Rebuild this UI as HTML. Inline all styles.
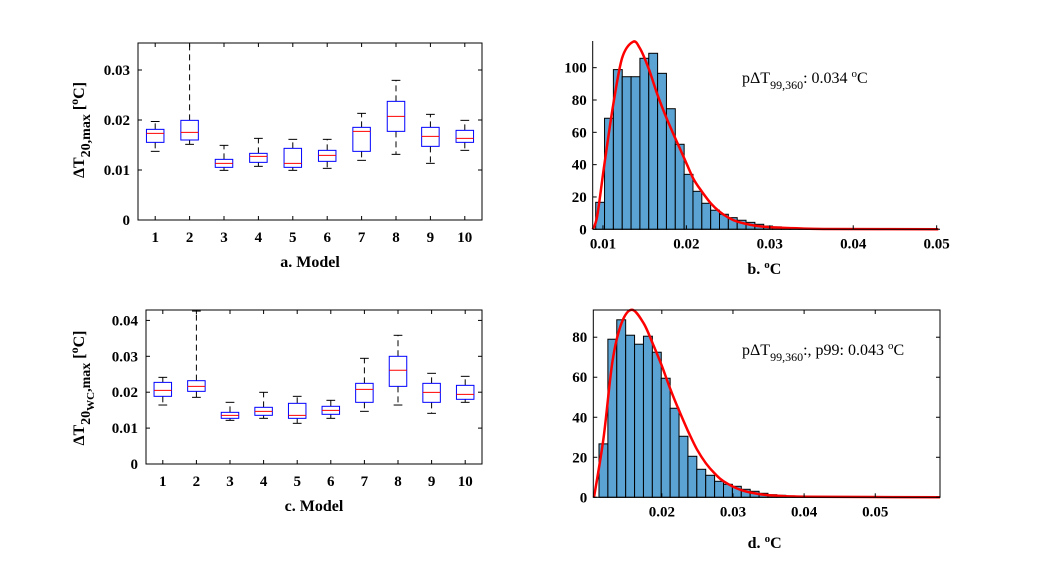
<!DOCTYPE html>
<html><head><meta charset="utf-8"><style>
body{margin:0;background:#fff;}
svg{display:block;font-family:"Liberation Serif",serif;}
.tk{font-size:15px;font-weight:bold;}
.al{font-size:16px;font-weight:bold;}
.an{font-size:16px;}
</style></head><body>
<svg id="fig" width="1039" height="565" viewBox="0 0 1039 565" xmlns="http://www.w3.org/2000/svg"></svg>
<script>
const models=[1,2,3,4,5,6,7,8,9,10];
// panel a: [lo, q1, med, q3, hi]
const aLo=[0.01373,0.01513,0.00993,0.01073,0.00993,0.01033,0.01193,0.01313,0.01133,0.01393];
const aQ1=[0.01553,0.0160,0.01053,0.01153,0.01053,0.01173,0.01373,0.01773,0.01473,0.01553];
const aMed=[0.01733,0.01753,0.01133,0.01273,0.01133,0.01293,0.01773,0.02073,0.01673,0.01633];
const aQ3=[0.01813,0.01993,0.01213,0.01333,0.01433,0.01393,0.01853,0.02373,0.01853,0.01793];
const aHi=[0.0197,0.0354,0.01493,0.01633,0.01613,0.01613,0.02133,0.02793,0.02113,0.01993];
// panel c
const cLo=[0.01643,0.01857,0.01216,0.01272,0.01133,0.01272,0.01467,0.01643,0.01411,0.01718];
const cQ1=[0.01885,0.02024,0.01272,0.01356,0.01272,0.01384,0.01718,0.02163,0.01718,0.01802];
const cMed=[0.02052,0.02163,0.01356,0.01467,0.01356,0.01495,0.0208,0.0261,0.01997,0.01941];
const cQ3=[0.02274,0.02321,0.01439,0.01579,0.0169,0.01607,0.02247,0.030,0.02247,0.02191];
const cHi=[0.02414,0.0426,0.01718,0.01997,0.01885,0.01774,0.02944,0.03585,0.02526,0.02442];
// panel b histogram
const bStart=0.00913, bWidth=0.00106;
const bCounts=[16.7,68.7,98.8,94.4,94.4,105.8,108.9,96.5,74.6,52.6,34,23.5,16.1,11.8,9.3,7.2,5.6,4.3,3.1,2,1.5,1,0.8,0.5,0.3,0.2];
const bCurveX=[0.00877,0.00930,0.01016,0.01123,0.0123,0.0136,0.01443,0.01547,0.01655,0.01763,0.0187,0.01974,0.02082,0.02186,0.02294,0.02398,0.02505,0.02613,0.0282,0.03036,0.0332,0.037,0.0502];
const bCurveY=[0,8,39.8,77,106,116,112,99.6,83,68.7,56,44,31.5,23.3,16,10.9,7.2,4.7,2.3,1.2,0.6,0.2,0];
// panel d histogram
const dStart=0.01117, dWidth=0.00125;
const dCounts=[26.7,79,88.7,81,76.5,80.5,72.5,59.5,44.5,30.5,20.5,14,11,8,6.5,5.5,4,3,2,1.3,1,0.7,0.5,0.3];
const dCurveX=[0.01047,0.0118,0.01307,0.01434,0.0158,0.01744,0.0187,0.01997,0.0212,0.02247,0.0237,0.02493,0.0262,0.02741,0.02868,0.03117,0.0337,0.0362,0.04043,0.0591];
const dCurveY=[0,29.5,68,87,93.7,87,77,66,54,43,33,24,17,12,8,3.6,1.6,0.8,0.3,0];

const NS="http://www.w3.org/2000/svg";
const svg=document.getElementById('fig');
function el(tag,attrs,parent){const e=document.createElementNS(NS,tag);for(const k in attrs)e.setAttribute(k,attrs[k]);(parent||svg).appendChild(e);return e;}
function txt(x,y,s,cls,anchor,parent){const t=el('text',{x:x,y:y,class:cls,'text-anchor':anchor||'middle'},parent);t.textContent=s;return t;}

function boxPanel(name,L,R,T,B,ymax,yticks,lo,q1,med,q3,hi,xlabel){
  const g=el('g',{});
  
  
  const sx=v=>L+(v-0.5)*(R-L)/10, sy=v=>B-v*(B-T)/ymax;
  const bw=17.5;
  for(let i=0;i<models.length;i++){
    const x=sx(models[i]);
    const b=el('g',{},g);
    
    
    el('line',{x1:x,x2:x,y1:sy(q3[i]),y2:sy(hi[i]),stroke:'#000','stroke-width':1,'stroke-dasharray':'6,4'},b);
    el('line',{x1:x,x2:x,y1:sy(q1[i]),y2:sy(lo[i]),stroke:'#000','stroke-width':1,'stroke-dasharray':'6,4'},b);
    el('line',{x1:x-bw/4,x2:x+bw/4,y1:sy(hi[i]),y2:sy(hi[i]),stroke:'#000','stroke-width':1},b);
    el('line',{x1:x-bw/4,x2:x+bw/4,y1:sy(lo[i]),y2:sy(lo[i]),stroke:'#000','stroke-width':1},b);
    el('rect',{x:x-bw/2,y:sy(q3[i]),width:bw,height:sy(q1[i])-sy(q3[i]),fill:'none',stroke:'#0000ff','stroke-width':1},b);
    el('line',{x1:x-bw/2,x2:x+bw/2,y1:sy(med[i]),y2:sy(med[i]),stroke:'#ff0000','stroke-width':1},b);
    el('line',{x1:x,x2:x,y1:B,y2:B-4,stroke:'#000'},g);
    el('line',{x1:x,x2:x,y1:T,y2:T+4,stroke:'#000'},g);
    txt(x,B+22,String(models[i]),'tk','middle',g);
  }
  yticks.forEach(v=>{
    const y=sy(v);
    el('line',{x1:L,x2:L+4,y1:y,y2:y,stroke:'#000'},g);
    el('line',{x1:R,x2:R-4,y1:y,y2:y,stroke:'#000'},g);
    txt(L-8,y+5,v===0?'0':v.toFixed(2),'tk','end',g);
  });
  el('rect',{x:L,y:T,width:R-L,height:B-T,fill:'none',stroke:'#000','stroke-width':1},g);
  const xl=txt((L+R)/2,B+47,xlabel,'al','middle',g);
  
  
}

boxPanel('panel-a-boxplot',138,482,43,220,0.0354,[0,0.01,0.02,0.03],aLo,aQ1,aMed,aQ3,aHi,'a. Model');
boxPanel('panel-c-boxplot',146,482,310,464,0.0429,[0,0.01,0.02,0.03,0.04],cLo,cQ1,cMed,cQ3,cHi,'c. Model');

function ylab(cx,cy,html,name){
  const t=el('text',{transform:`translate(${cx},${cy}) rotate(-90)`,'text-anchor':'middle',class:'al','font-size':'19'});
  
  
  t.innerHTML=html;
}
ylab(84,130,'ΔT<tspan font-size="14" dy="6">20,max</tspan><tspan dy="-6"> [</tspan><tspan font-size="12" dy="-6">o</tspan><tspan dy="6">C]</tspan>','y-axis-title-a');
ylab(84,388,'ΔT<tspan font-size="14" dy="6">20</tspan><tspan font-size="11" dy="4">WC</tspan><tspan font-size="14" dy="-4">,max</tspan><tspan dy="-6"> [</tspan><tspan font-size="12" dy="-6">o</tspan><tspan dy="6">C]</tspan>','y-axis-title-c');

function smooth(pts){
  let d='M'+pts[0][0].toFixed(1)+','+pts[0][1].toFixed(1);
  for(let i=0;i<pts.length-1;i++){
    const p0=pts[Math.max(0,i-1)],p1=pts[i],p2=pts[i+1],p3=pts[Math.min(pts.length-1,i+2)];
    const c1=[p1[0]+(p2[0]-p0[0])/6,p1[1]+(p2[1]-p0[1])/6];
    const c2=[p2[0]-(p3[0]-p1[0])/6,p2[1]-(p3[1]-p1[1])/6];
    d+='C'+c1.map(v=>v.toFixed(1)).join(',')+' '+c2.map(v=>v.toFixed(1)).join(',')+' '+p2[0].toFixed(1)+','+p2[1].toFixed(1);
  }
  return d;
}

function histPanel(name,L,R,T,B,x0,x1,ymax,counts,start,width,cx,cy,xticks,yticks,boxed,label,labY){
  const g=el('g',{});
  
  
  const sx=v=>L+(v-x0)*(R-L)/(x1-x0), sy=v=>B-v*(B-T)/ymax;
  for(let i=0;i<counts.length;i++){
    const r=el('rect',{x:sx(start+i*width),y:sy(counts[i]),width:sx(start+(i+1)*width)-sx(start+i*width),height:B-sy(counts[i]),fill:'#5aa3d3',stroke:'#000','stroke-width':1},g);
    
    
  }
  const pts=cx.map((v,i)=>[sx(v),sy(cy[i])]);
  const p=el('path',{d:smooth(pts),fill:'none',stroke:'#ff0000','stroke-width':2.5,'stroke-linejoin':'round'},g);
  
  
  xticks.forEach(v=>{const x=sx(v);el('line',{x1:x,x2:x,y1:B,y2:B-4,stroke:'#000'},g);if(boxed)el('line',{x1:x,x2:x,y1:T,y2:T+4,stroke:'#000'},g);txt(x,B+19,v.toFixed(2),'tk','middle',g);});
  yticks.forEach(v=>{const y=sy(v);el('line',{x1:L,x2:L+4,y1:y,y2:y,stroke:'#000'},g);if(boxed)el('line',{x1:R,x2:R-4,y1:y,y2:y,stroke:'#000'},g);txt(L-6,y+5,String(v),'tk','end',g);});
  if(boxed)el('rect',{x:L,y:T,width:R-L,height:B-T,fill:'none',stroke:'#000'},g);
  else{el('line',{x1:L,x2:L,y1:T,y2:B,stroke:'#000'},g);el('line',{x1:L,x2:R,y1:B,y2:B,stroke:'#000'},g);}
  const xl=el('text',{x:(L+R)/2-2,y:labY,class:'al','text-anchor':'middle'},g);
  
  
  xl.innerHTML=label+' <tspan font-size="11" dy="-6">o</tspan><tspan dy="6">C</tspan>';
}
histPanel('panel-b-histogram',592.7,940,41,229.3,0.00877,0.0504,116.5,bCounts,bStart,bWidth,bCurveX,bCurveY,[0.01,0.02,0.03,0.04,0.05],[0,20,40,60,80,100],false,'b.',274);
histPanel('panel-d-histogram',593.3,940,310,497.3,0.01037,0.0591,93.6,dCounts,dStart,dWidth,dCurveX,dCurveY,[0.02,0.03,0.04,0.05],[0,20,40,60,80],true,'d.',548);

const a1=el('text',{x:742,y:83,class:'an','text-anchor':'start'});


a1.innerHTML='pΔT<tspan font-size="12" dy="6">99,360</tspan><tspan dy="-6">: 0.034 </tspan><tspan font-size="11" dy="-6">o</tspan><tspan dy="6">C</tspan>';
const a2=el('text',{x:742,y:355,class:'an','text-anchor':'start'});


a2.innerHTML='pΔT<tspan font-size="12" dy="6">99,360</tspan><tspan dy="-6">:, p99: 0.043 </tspan><tspan font-size="11" dy="-6">o</tspan><tspan dy="6">C</tspan>';
</script>
</body></html>
